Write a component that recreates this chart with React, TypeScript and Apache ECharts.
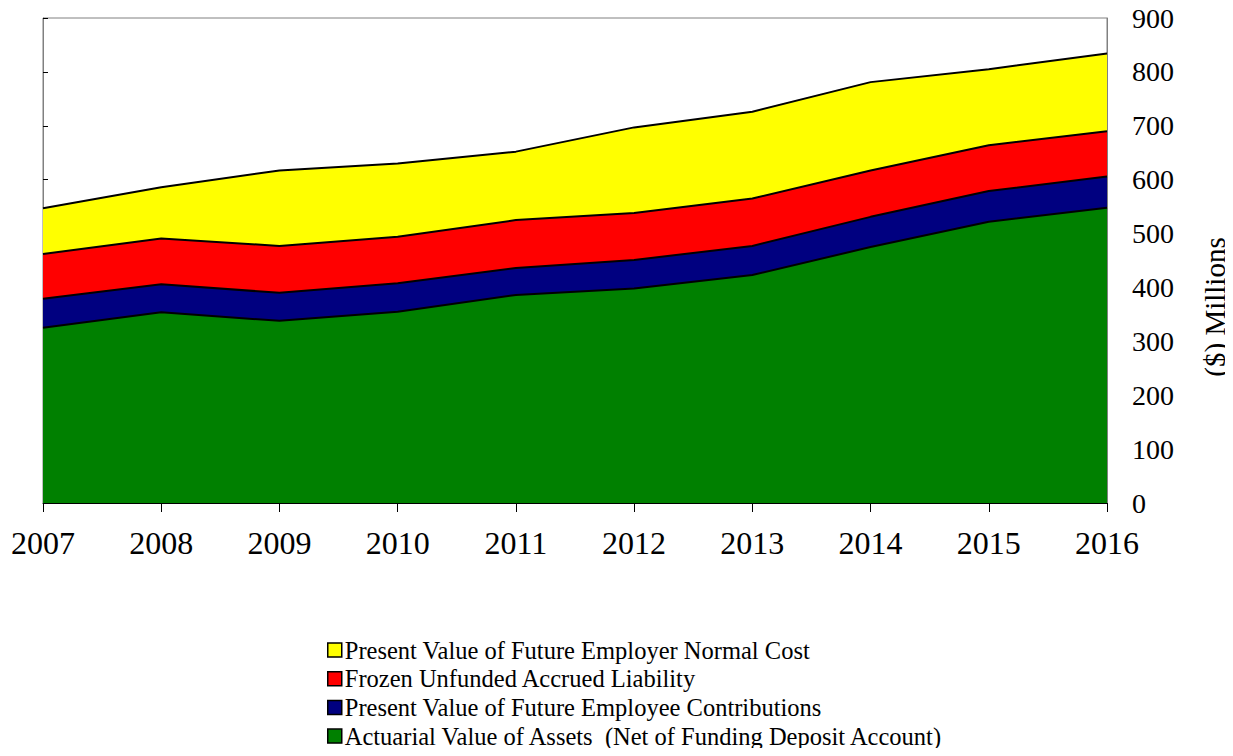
import React, { useEffect, useRef } from "react";
import * as echarts from "echarts";

const years = ["2007", "2008", "2009", "2010", "2011", "2012", "2013", "2014", "2015", "2016"];
const actuarialAssets = [325, 354, 338, 355, 386, 398, 423, 475, 522, 548];
const employeeContrib = [54, 52, 52, 53, 50, 53, 54, 56, 57, 58];
const frozenLiability = [83, 85, 87, 86, 89, 87, 88, 86, 85, 84];
const employerNormalCost = [85, 95, 140, 136, 127, 159, 161, 164, 141, 144];

const seriesNames = [
  "Actuarial Value of Assets  (Net of Funding Deposit Account)",
  "Present Value of Future Employee Contributions",
  "Frozen Unfunded Accrued Liability",
  "Present Value of Future Employer Normal Cost",
];
const seriesColors = ["#008000", "#000080", "#FF0000", "#FFFF00"];
const seriesData = [actuarialAssets, employeeContrib, frozenLiability, employerNormalCost];

const FONT = "'Liberation Serif', 'Times New Roman', serif";

export default function App() {
  const ref = useRef<HTMLDivElement>(null);
  useEffect(() => {
    if (!ref.current) return;
    const chart = echarts.init(ref.current, undefined, { renderer: "svg" });
    chart.setOption({
      animation: false,
      backgroundColor: "#ffffff",
      grid: {
        left: 43,
        right: 126,
        top: 18,
        bottom: 253,
        show: true,
        borderColor: "#808080",
        borderWidth: 1,
        backgroundColor: "transparent",
      },
      legend: {
        orient: "vertical",
        left: 327,
        top: 636,
        height: 130,
        itemWidth: 14,
        itemHeight: 14,
        itemGap: 0.7,
        padding: 0,
        icon: "rect",
        itemStyle: { borderColor: "#000", borderWidth: 1.5 },
        data: [seriesNames[3], seriesNames[2], seriesNames[1], seriesNames[0]],
        textStyle: {
          fontFamily: FONT,
          fontSize: 24.5,
          lineHeight: 28,
          color: "#000",
          padding: [0, 0, 0, -2],
        },
      },
      xAxis: {
        type: "category",
        data: years,
        boundaryGap: false,
        axisLine: { lineStyle: { color: "#000", width: 1 } },
        axisTick: { show: true, length: 9, lineStyle: { color: "#000" } },
        axisLabel: { fontFamily: FONT, fontSize: 32, color: "#000", margin: 24 },
        splitLine: { show: false },
      },
      yAxis: [
        {
          type: "value",
          position: "right",
          min: 0,
          max: 900,
          interval: 100,
          axisLine: { show: true, lineStyle: { color: "#808080" } },
          axisTick: { show: false },
          axisLabel: { fontFamily: FONT, fontSize: 28, color: "#000", margin: 25 },
          splitLine: { show: false },
        },
        {
          type: "value",
          position: "left",
          min: 0,
          max: 900,
          interval: 100,
          axisLine: { show: true, lineStyle: { color: "#808080" } },
          axisTick: { show: true, inside: true, length: 5, lineStyle: { color: "#000" } },
          axisLabel: { show: false },
          splitLine: { show: false },
        },
      ],
      series: seriesData.map((d, i) => ({
        name: seriesNames[i],
        type: "line",
        stack: "total",
        data: d,
        symbol: "none",
        lineStyle: { color: "#000", width: 2 },
        areaStyle: { color: seriesColors[i], opacity: 1 },
        itemStyle: { color: seriesColors[i], borderColor: "#000", borderWidth: 1.5 },
        z: 2,
      })),
      graphic: [
        {
          type: "text",
          x: 1215,
          y: 307,
          rotation: Math.PI / 2,
          style: {
            text: "($) Millions",
            fontFamily: FONT,
            fontSize: 29,
            fill: "#000",
            align: "center",
            verticalAlign: "middle",
          },
        },
      ],
    });
    return () => chart.dispose();
  }, []);
  return <div ref={ref} style={{ width: 1233, height: 756, margin: -8 }} />;
}
